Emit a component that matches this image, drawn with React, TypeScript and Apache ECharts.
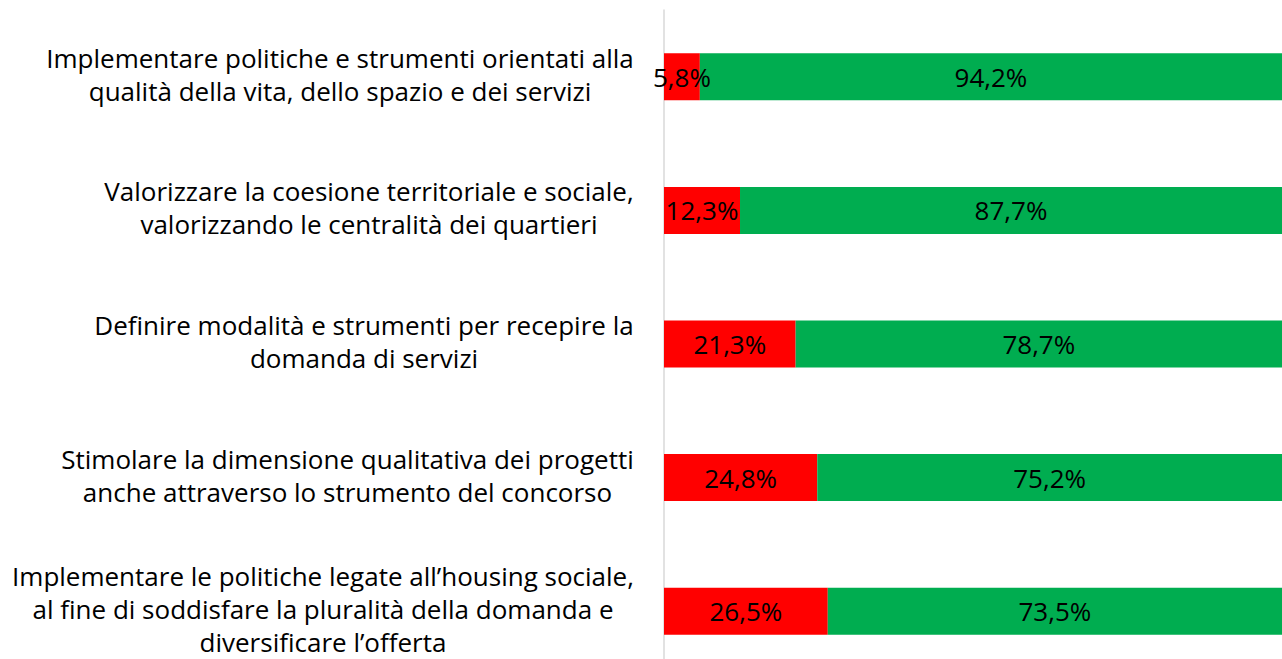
import React, { useEffect, useRef } from "react";
import * as echarts from "echarts";

const categories = [
  "Implementare politiche e strumenti orientati alla\nqualità della vita, dello spazio e dei servizi",
  "Valorizzare la coesione territoriale e sociale,\nvalorizzando le centralità dei quartieri",
  "Definire modalità e strumenti per recepire la\ndomanda di servizi",
  "Stimolare la dimensione qualitativa dei progetti\nanche attraverso lo strumento del concorso",
  "Implementare le politiche legate all’housing sociale,\nal fine di soddisfare la pluralità della domanda e\ndiversificare l’offerta",
];
const redValues = [5.8, 12.3, 21.3, 24.8, 26.5];
const greenValues = [94.2, 87.7, 78.7, 75.2, 73.5];

const FONT = "Open Sans";
const CAT_SIZE = 26;
const VAL_SIZE = 26;
const LINE_H = 33;

const fmt = (v: number) => v.toFixed(1).replace(".", ",") + "%";

export default function App() {
  const ref = useRef<HTMLDivElement>(null);
  useEffect(() => {
    if (!ref.current) return;
    const chart = echarts.init(ref.current, null, { renderer: "svg" });

    const canvas = document.createElement("canvas");
    const ctx = canvas.getContext("2d")!;
    ctx.font = `${CAT_SIZE}px '${FONT}'`;
    const rich: Record<string, any> = {};
    categories.forEach((c, i) => {
      const w = Math.max(...c.split("\n").map((l) => ctx.measureText(l).width));
      rich["r" + i] = {
        width: Math.ceil(w) + 2,
        align: "center",
        fontFamily: FONT,
        fontSize: CAT_SIZE,
        lineHeight: LINE_H,
        color: "#000",
      };
    });

    const labelStyle = {
      show: true,
      position: "inside" as const,
      color: "#000",
      fontFamily: FONT,
      fontSize: VAL_SIZE,
      formatter: (p: any) => fmt(p.value),
    };
    chart.setOption({
      animation: false,
      grid: { left: 664, right: 0, top: 10, bottom: 22, containLabel: false },
      xAxis: { type: "value", min: 0, max: 100, show: false },
      yAxis: {
        type: "category",
        data: categories,
        inverse: true,
        axisLine: { show: true, lineStyle: { color: "#D9D9D9", width: 1.5 } },
        axisTick: { show: false },
        axisLabel: {
          margin: 29,
          align: "right",
          padding: [0, 0, 5, 0],
          fontFamily: FONT,
          fontSize: CAT_SIZE,
          lineHeight: LINE_H,
          color: "#000",
          formatter: (v: string, i: number) =>
            v
              .split("\n")
              .map((l) => `{r${i}|${l}}`)
              .join("\n"),
          rich,
        },
      },
      series: [
        {
          type: "bar",
          stack: "t",
          data: redValues,
          barWidth: 47,
          itemStyle: { color: "#FF0000" },
          label: labelStyle,
        },
        {
          type: "bar",
          stack: "t",
          data: greenValues,
          barWidth: 47,
          itemStyle: { color: "#00AD50" },
          label: labelStyle,
        },
      ],
    });
    return () => chart.dispose();
  }, []);
  return (
    <div
      style={{
        position: "absolute",
        left: 0,
        top: 0,
        width: 1282,
        height: 659,
        overflow: "hidden",
      }}
    >
      <div ref={ref} style={{ width: 1282, height: 700 }} />
    </div>
  );
}
